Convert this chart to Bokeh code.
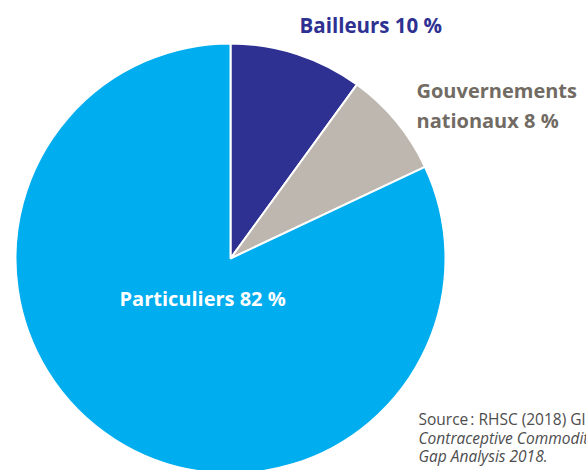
import numpy as np
from bokeh.plotting import figure
from bokeh.models import ColumnDataSource, Range1d
from bokeh.core.properties import value
from bokeh.embed import file_html
from bokeh.resources import INLINE

categories = ["Bailleurs", "Gouvernements nationaux", "Particuliers"]
shares = [10, 8, 82]
colors = ["#2E3192", "#BDB7B0", "#00ADEE"]
source_lines = ["Source\u202f: RHSC (2018) Global",
                "Contraceptive Commodity", "Gap Analysis 2018."]

W, H = 586, 470
p = figure(width=W, height=H, x_range=Range1d(0, W), y_range=Range1d(0, H),
           output_backend="svg", toolbar_location=None, min_border=0)
p.axis.visible = False
p.grid.visible = False
p.outline_line_color = None
p.background_fill_color = "white"

frac = np.array(shares) / sum(shares)
cum = np.concatenate([[0], np.cumsum(frac)])
start = np.pi / 2 - 2 * np.pi * cum[:-1]
end = np.pi / 2 - 2 * np.pi * cum[1:]
src = ColumnDataSource(dict(start=start, end=end, color=colors, cat=categories))

cx, cy, r = 230, H - 258, 215
p.wedge(x=cx, y=cy, radius=r, start_angle="start", end_angle="end",
        direction="clock", fill_color="color", line_color="white",
        line_width=2, source=src)

font = value("Open Sans")
dy = 7
p.text(x=[299], y=[H - 31 + dy], text=[f"{categories[0]} {shares[0]} %"],
       text_font=font, text_font_style="bold", text_font_size="20.5px",
       text_color="#2E3192", text_baseline="alphabetic")
p.text(x=[416, 416], y=[H - 97 + dy, H - 127 + dy],
       text=["Gouvernements", f"nationaux {shares[1]} %"],
       text_font=font, text_font_style="bold", text_font_size="20px",
       text_color="#716B63", text_baseline="alphabetic")
p.text(x=[119], y=[H - 305 + dy], text=[f"{categories[2]} {shares[2]} %"],
       text_font=font, text_font_style="bold", text_font_size="20px",
       text_color="white", text_baseline="alphabetic")

p.text(x=[418], y=[H - 425 + dy], text=[source_lines[0]],
       text_font=font, text_font_size="15.5px", text_color="#4D4D4D",
       text_baseline="alphabetic")
p.text(x=[418, 418], y=[H - 444 + dy, H - 462 + dy],
       text=source_lines[1:],
       text_font=font, text_font_style="italic", text_font_size="15.5px",
       text_color="#4D4D4D", text_baseline="alphabetic")

open("out.html", "w").write(file_html(p, INLINE))
